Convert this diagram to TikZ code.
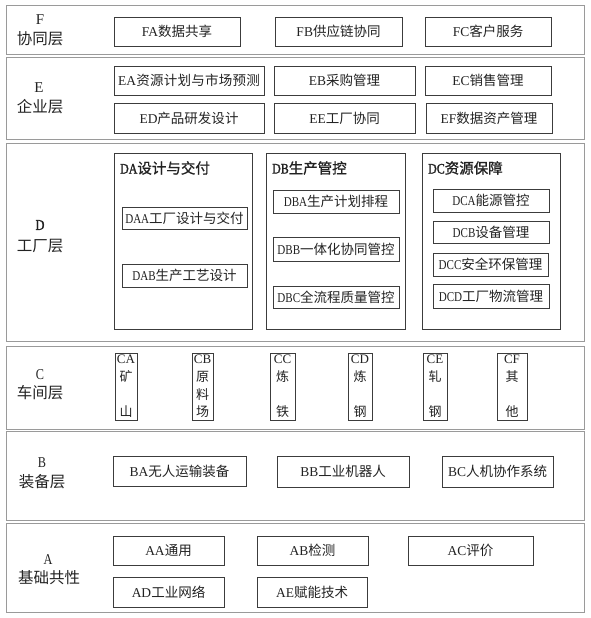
\documentclass[tikz,border=0pt]{standalone}
\usepackage{fontspec}
\setmainfont{Liberation Serif}
\newfontfamily\cjk{Noto Sans CJK SC}
\newfontfamily\cjkb[FakeBold=1.2]{Noto Sans CJK SC}
\newfontfamily\dlat[FakeStretch=0.82]{Liberation Serif}
\newfontfamily\dlatb[FakeStretch=0.82,FakeBold=1.5]{Liberation Serif}
\definecolor{frame}{HTML}{9A9A9A}
\definecolor{boxline}{HTML}{3C3C3C}
\definecolor{ink}{HTML}{222222}
\newcommand\bx[7][ibox]{\node[#1,minimum width={(#5-#3)*1pt},minimum height={(#6-#4)*1pt}] (#2) at ({(#3+#5)/2},{(#4+#6)/2}) {#7};}
\newcommand\mx[2]{#1{\cjk #2}}
\newcommand\dx[2]{{\dlat #1}{\cjk #2}}
\tikzset{
  layer/.style={draw=frame,line width=1pt,inner sep=0pt},
  ibox/.style={draw=boxline,line width=0.9pt,inner sep=0pt,text=ink,font=\fontsize{13.5}{16}\selectfont},
  cbox/.style={ibox,align=center,font=\fontsize{13}{17.6}\selectfont},
  latlab/.style={inner sep=0pt,text=ink,font=\fontsize{15}{18}\selectfont},
  cjklab/.style={inner sep=0pt,text=ink,font=\fontsize{15.5}{18}\selectfont\cjk},
  dtitle/.style={inner sep=0pt,anchor=west,text=ink,font=\fontsize{14.5}{17}\selectfont}
}
\begin{document}
\begin{tikzpicture}[x=1pt,y=-1pt]
\useasboundingbox (0,0) rectangle (591,618);
% layers
\bx[layer]{LF}{6}{6}{584}{55}{}
\bx[layer]{LE}{6}{58}{584}{139}{}
\bx[layer]{LD}{6}{143}{584}{341}{}
\bx[layer]{LC}{6}{346}{584}{429}{}
\bx[layer]{LB}{6}{431}{584}{520}{}
\bx[layer]{LA}{6}{523}{584}{612}{}
% layer labels
\node[latlab] (Fl1) at (40,20) {F};
\node[cjklab] (Fl2) at (40,39) {协同层};
\node[latlab] (El1) at (39,88) {E};
\node[cjklab] (El2) at (40,107) {企业层};
\node[latlab,font=\fontsize{15}{18}\selectfont\dlatb] (Dl1) at (40,225) {D};
\node[cjklab] (Dl2) at (40,246) {工厂层};
\node[latlab,font=\fontsize{15}{18}\selectfont\dlat] (Cl1) at (40,375) {C};
\node[cjklab] (Cl2) at (40,393) {车间层};
\node[latlab,font=\fontsize{15}{18}\selectfont\dlat] (Bl1) at (42,463) {B};
\node[cjklab] (Bl2) at (42,482) {装备层};
\node[latlab,font=\fontsize{15}{18}\selectfont\dlat] (Al1) at (48,560) {A};
\node[cjklab] (Al2) at (49,578) {基础共性};
% F
\bx{FA}{114}{17}{240}{46}{\mx{FA}{数据共享}}
\bx{FB}{275}{17}{402}{46}{\mx{FB}{供应链协同}}
\bx{FC}{425}{17}{551}{46}{\mx{FC}{客户服务}}
% E
\bx{EA}{114}{66}{264}{95}{\makebox[142pt][s]{EA\hfil\cjk 资\hfil 源\hfil 计\hfil 划\hfil 与\hfil 市\hfil 场\hfil 预\hfil 测}}
\bx{EB}{274}{66}{415}{95}{\mx{EB}{采购管理}}
\bx{EC}{425}{66}{551}{95}{\mx{EC}{销售管理}}
\bx{ED}{114}{103}{264}{133}{\mx{ED}{产品研发设计}}
\bx{EE}{274}{103}{415}{133}{\mx{EE}{工厂协同}}
\bx{EF}{426}{103}{552}{133}{\mx{EF}{数据资产管理}}
% D
\bx{DA}{114}{153}{252}{329}{}
\node[dtitle] (DAt) at (120,168) {{\dlatb DA}{\cjkb 设计与交付}};
\bx{DAA}{122}{207}{247}{229}{\dx{DAA}{工厂设计与交付}}
\bx{DAB}{122}{264}{247}{287}{\dx{DAB}{生产工艺设计}}
\bx{DB}{266}{153}{405}{329}{}
\node[dtitle] (DBt) at (272,168) {{\dlatb DB}{\cjkb 生产管控}};
\bx{DBA}{273}{190}{399}{213}{\dx{DBA}{生产计划排程}}
\bx{DBB}{273}{237}{399}{261}{\dx{DBB}{一体化协同管控}}
\bx{DBC}{273}{286}{399}{308}{\dx{DBC}{全流程质量管控}}
\bx{DC}{422}{153}{560}{329}{}
\node[dtitle] (DCt) at (428,168) {{\dlatb DC}{\cjkb 资源保障}};
\bx{DCA}{433}{189}{549}{212}{\dx{DCA}{能源管控}}
\bx{DCB}{433}{221}{549}{243}{\dx{DCB}{设备管理}}
\bx{DCC}{433}{253}{548}{276}{\dx{DCC}{安全环保管理}}
\bx{DCD}{433}{284}{549}{308}{\dx{DCD}{工厂物流管理}}
% C
\bx[cbox]{CA}{115}{353}{137}{420}{CA\\{\cjk 矿}\\\phantom{\cjk 山}\\{\cjk 山}}
\bx[cbox]{CB}{192}{353}{213}{420}{CB\\{\cjk 原}\\{\cjk 料}\\{\cjk 场}}
\bx[cbox]{CC}{270}{353}{295}{420}{CC\\{\cjk 炼}\\\phantom{\cjk 铁}\\{\cjk 铁}}
\bx[cbox]{CD}{348}{353}{372}{420}{CD\\{\cjk 炼}\\\phantom{\cjk 钢}\\{\cjk 钢}}
\bx[cbox]{CE}{423}{353}{447}{420}{CE\\{\cjk 轧}\\\phantom{\cjk 钢}\\{\cjk 钢}}
\bx[cbox]{CF}{497}{353}{527}{420}{CF\\{\cjk 其}\\\phantom{\cjk 他}\\{\cjk 他}}
% B
\bx{BA}{113}{456}{246}{486}{\mx{BA}{无人运输装备}}
\bx{BB}{277}{456}{409}{487}{\mx{BB}{工业机器人}}
\bx{BC}{442}{456}{553}{487}{\mx{BC}{人机协作系统}}
% A
\bx{AA}{113}{536}{224}{565}{\mx{AA}{通用}}
\bx{AB}{257}{536}{368}{565}{\mx{AB}{检测}}
\bx{AC}{408}{536}{533}{565}{\mx{AC}{评价}}
\bx{AD}{113}{577}{224}{607}{\mx{AD}{工业网络}}
\bx{AE}{257}{577}{367}{607}{\mx{AE}{赋能技术}}
\end{tikzpicture}
\end{document}
